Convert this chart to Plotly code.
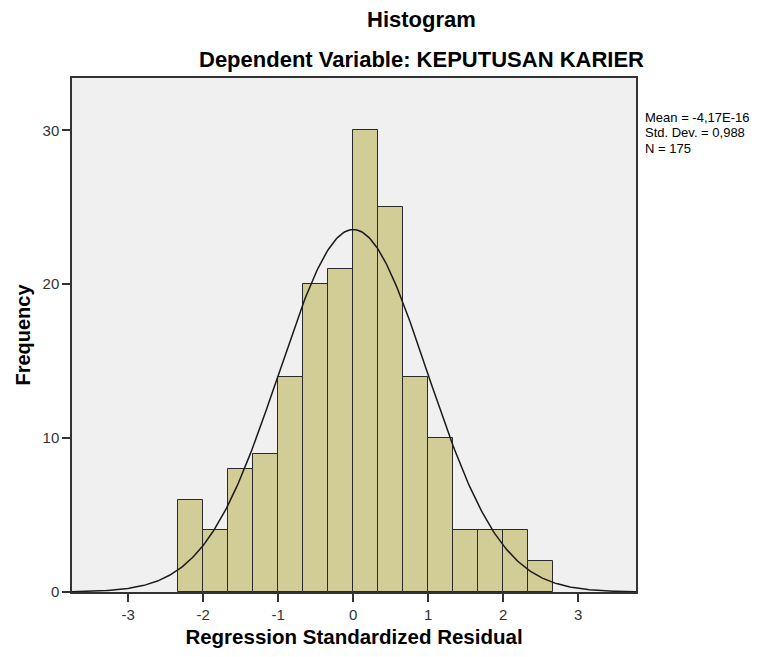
import math
import plotly.graph_objects as go

# histogram bins (left edges in units of bin_width) and counts
bin_width = 1 / 3
bin_left = [-7, -6, -5, -4, -3, -2, -1, 0, 1, 2, 3, 4, 5, 6, 7]
counts = [6, 4, 8, 9, 14, 20, 21, 30, 25, 14, 10, 4, 4, 4, 2]

# summary stats shown on the chart
mean = -4.17e-16
std_dev = 0.988
n_obs = 175
stats_lines = ["Mean = -4,17E-16", "Std. Dev. = 0,988", "N = 175"]

x_ticks = [-3, -2, -1, 0, 1, 2, 3]
y_ticks = [0, 10, 20, 30]

centers = [(k + 0.5) * bin_width for k in bin_left]

# fitted normal curve scaled to the histogram
curve_x = [-3.75 + i * 0.02 for i in range(377)]
scale = n_obs * bin_width / (std_dev * math.sqrt(2 * math.pi))
curve_y = [scale * math.exp(-0.5 * ((x - mean) / std_dev) ** 2) for x in curve_x]

W, H = 764, 657
ML, MR, MT, MB = 64, 136, 70, 73
plot_w = W - ML - MR
plot_h = H - MT - MB


def px_to_paper(px, py):
    # pixel position in the figure -> paper coords
    return (px - ML) / plot_w, 1 + (MT - py) / plot_h


fig = go.Figure()
fig.add_trace(go.Bar(
    x=centers, y=counts, width=bin_width,
    marker=dict(color="#d2cd96", line=dict(color="#2a2a2a", width=1)),
    hoverinfo="x+y",
))
fig.add_trace(go.Scatter(
    x=curve_x, y=curve_y, mode="lines",
    line=dict(color="#1a1a1a", width=1.5),
    hoverinfo="skip",
))

annotations = []
tx, ty = px_to_paper(413, 12)
annotations.append(dict(text="<b>Histogram</b>", x=tx, y=ty, xref="paper", yref="paper",
                        xanchor="center", yanchor="middle", showarrow=False,
                        font=dict(size=22)))
tx, ty = px_to_paper(413, 52)
annotations.append(dict(text="<b>Dependent Variable: KEPUTUSAN KARIER</b>", x=tx, y=ty,
                        xref="paper", yref="paper", xanchor="center", yanchor="middle",
                        showarrow=False, font=dict(size=22)))
for i, line in enumerate(stats_lines):
    sx, sy = px_to_paper(635, 110 + 15 * i)
    annotations.append(dict(text=line, x=sx, y=sy, xref="paper", yref="paper",
                            xanchor="left", yanchor="middle", showarrow=False,
                            font=dict(size=13)))

fig.update_layout(
    width=W, height=H,
    margin=dict(l=ML, r=MR, t=MT, b=MB),
    paper_bgcolor="white",
    plot_bgcolor="#f0f0f0",
    showlegend=False,
    bargap=0,
    font=dict(family="Arial, Liberation Sans, sans-serif", color="#000"),
    xaxis=dict(
        range=[-3.75, 3.77], tickvals=x_ticks, ticktext=[str(t) for t in x_ticks],
        showgrid=False, zeroline=False,
        showline=True, linecolor="#333", linewidth=1.5, mirror=True,
        ticks="outside", ticklen=8, tickwidth=1.5, tickcolor="#333",
        tickfont=dict(size=15, color="#333"),
        title=dict(text="<b>Regression Standardized Residual</b>",
                   font=dict(size=20.5), standoff=8),
        automargin=False,
    ),
    yaxis=dict(
        range=[0, 33.4], tickvals=y_ticks,
        showgrid=False, zeroline=False,
        showline=True, linecolor="#333", linewidth=1.5, mirror=True,
        ticks="outside", ticklen=8, tickwidth=1.5, tickcolor="#333",
        tickfont=dict(size=15, color="#333"),
        title=dict(text="<b>Frequency</b>", font=dict(size=20), standoff=7),
        automargin=False,
    ),
    annotations=annotations,
)

fig.write_html("out.html")
